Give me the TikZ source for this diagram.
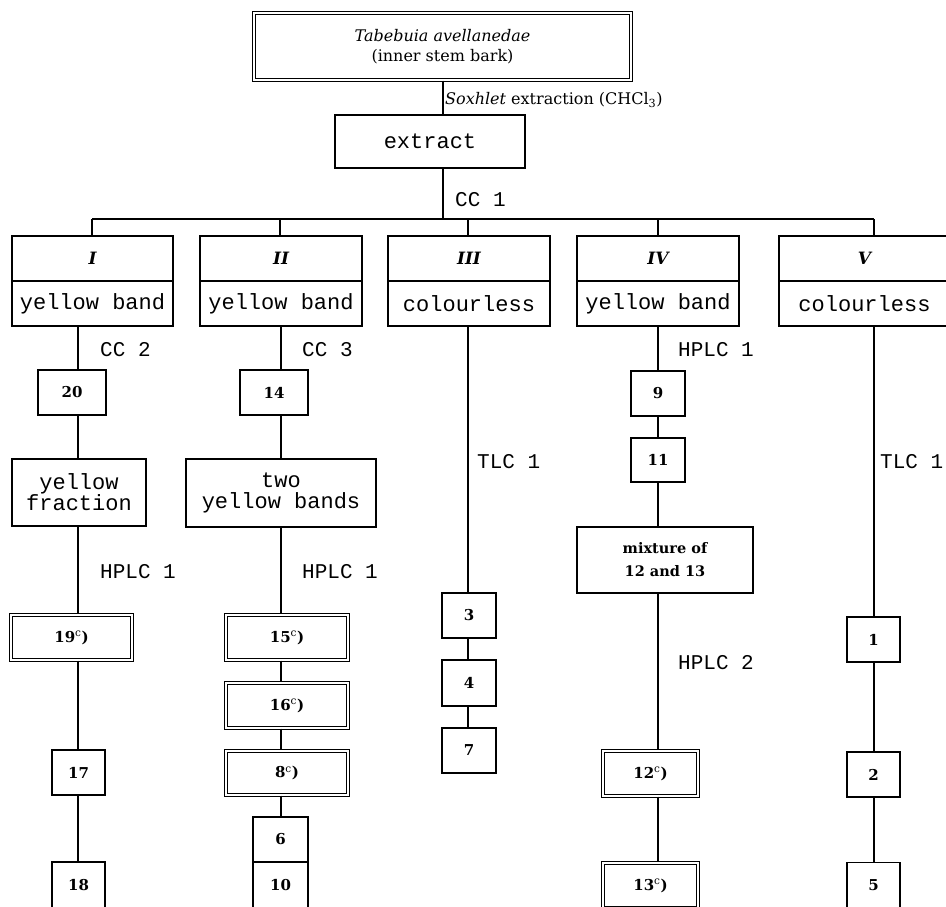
\documentclass[tikz,border=0pt]{standalone}
\usepackage{fontspec}
\setmainfont{DejaVu Serif}
\setmonofont{Liberation Mono}
\begin{document}
\begin{tikzpicture}[x=1pt,y=-1pt,
  box/.style={draw, rectangle, inner sep=0pt, line width=1.3pt, align=center},
  dbl/.style={box, double, double distance=2.2pt, line width=1.1pt},
  mono/.style={font=\fontsize{22}{21}\selectfont\ttfamily},
  num/.style={font=\fontsize{15}{20}\selectfont\bfseries},
  rom/.style={font=\fontsize{17}{20}\selectfont\bfseries\itshape},
  lab/.style={anchor=west, inner sep=0pt, font=\fontsize{21}{21}\selectfont\ttfamily},
  conn/.style={line width=1.3pt}]
\useasboundingbox (0,0) rectangle (946,906);
\clip (0,0) rectangle (946,906);
\newcommand{\cm}[1]{\textbf{#1}{\normalfont\textsuperscript{c}})}
% top
\node[dbl, minimum width=377pt, minimum height=67pt, font=\fontsize{16}{20}\selectfont] (top) at (442.5,46.5)
  {\textit{Tabebuia avellanedae}\\(inner stem bark)};
\node[box, mono, minimum width=190pt, minimum height=53pt] (ext) at (430,141.5) {extract};
\draw[conn] (top.south -| 443,0) -- (ext.north -| 443,0);
\node[anchor=west, inner sep=0pt, font=\fontsize{16}{20}\selectfont] (sox) at (445,100) {\textit{Soxhlet} extraction (CHCl\textsubscript{3})};
\coordinate (bar) at (443,219);
\node[lab] (cc1) at (455,200) {CC 1};
% headers
\foreach \n/\cx/\w/\r/\t in {1/92.5/161/I/yellow band,2/281/162/II/yellow band,3/469/162/III/colourless,4/658/162/IV/yellow band,5/864.5/171/V/colourless}{
  \node[box, rom, minimum width=\w pt, minimum height=45pt] (h\n a) at (\cx,258.5) {\r};
  \node[box, mono, minimum width=\w pt, minimum height=45pt] (h\n b) at (\cx,303.5) {\t};
}
\coordinate (v1) at (92,219);
\coordinate (v2) at (280,219);
\coordinate (v3) at (468,219);
\coordinate (v4) at (658,219);
\coordinate (v5) at (874,219);
\draw[conn] (ext.south -| bar) -- (bar);
\draw[conn] (v1) -- (v5);
\foreach \n in {1,...,5}{\draw[conn] (v\n) -- (h\n a.north -| v\n);}
% column I
\coordinate (c1) at (78,0);
\node[box, num, minimum width=68pt, minimum height=45pt] (b20) at (72,392.5) {20};
\node[box, mono, minimum width=134pt, minimum height=67pt] (yf) at (79,492.5) {yellow\\fraction};
\node[dbl, num, minimum width=121pt, minimum height=45pt] (b19) at (71.5,637.5) {\cm{19}};
\node[box, num, minimum width=53pt, minimum height=45pt] (b17) at (78.5,772.5) {17};
\node[box, num, minimum width=53pt, minimum height=46pt] (b18) at (78.5,885) {18};
\node[lab] (cc2) at (100,350) {CC 2};
\node[lab] (hp1a) at (100,572) {HPLC 1};
\draw[conn] (h1b.south -| c1) -- (b20.north -| c1);
\draw[conn] (b20.south -| c1) -- (yf.north -| c1);
\draw[conn] (yf.south -| c1) -- (b19.north -| c1);
\draw[conn] (b19.south -| c1) -- (b17.north -| c1);
\draw[conn] (b17.south -| c1) -- (b18.north -| c1);
% column II
\coordinate (c2) at (281,0);
\node[box, num, minimum width=68pt, minimum height=45pt] (b14) at (274,392.5) {14};
\node[box, mono, minimum width=190pt, minimum height=68pt] (tyb) at (281,493) {two\\yellow bands};
\node[dbl, num, minimum width=122pt, minimum height=45pt] (b15) at (287,637.5) {\cm{15}};
\node[dbl, num, minimum width=122pt, minimum height=45pt] (b16) at (287,705.5) {\cm{16}};
\node[dbl, num, minimum width=122pt, minimum height=44pt] (b8) at (287,773) {\cm{8}};
\node[box, num, minimum width=55pt, minimum height=45pt] (b6) at (280.5,839.5) {6};
\node[box, num, minimum width=55pt, minimum height=46pt] (b10) at (280.5,885) {10};
\node[lab] (cc3) at (302,350) {CC 3};
\node[lab] (hp1b) at (302,572) {HPLC 1};
\draw[conn] (h2b.south -| c2) -- (b14.north -| c2);
\draw[conn] (b14.south -| c2) -- (tyb.north -| c2);
\draw[conn] (tyb.south -| c2) -- (b15.north -| c2);
\draw[conn] (b15.south -| c2) -- (b16.north -| c2);
\draw[conn] (b16.south -| c2) -- (b8.north -| c2);
\draw[conn] (b8.south -| c2) -- (b6.north -| c2);
% column III
\coordinate (c3) at (468,0);
\node[box, num, minimum width=54pt, minimum height=45pt] (b3) at (469,615.5) {3};
\node[box, num, minimum width=54pt, minimum height=46pt] (b4) at (469,683) {4};
\node[box, num, minimum width=54pt, minimum height=45pt] (b7) at (469,750.5) {7};
\node[lab] (tlc1a) at (477,462) {TLC 1};
\draw[conn] (h3b.south -| c3) -- (b3.north -| c3);
\draw[conn] (b3.south -| c3) -- (b4.north -| c3);
\draw[conn] (b4.south -| c3) -- (b7.north -| c3);
% column IV
\coordinate (c4) at (658,0);
\node[box, num, minimum width=54pt, minimum height=45pt] (b9) at (658,393.5) {9};
\node[box, num, minimum width=54pt, minimum height=44pt] (b11) at (658,460) {11};
\node[box, num, minimum width=176pt, minimum height=66pt, font=\fontsize{14.5}{23}\selectfont\bfseries] (mix) at (665,560) {mixture of\\12 and 13};
\node[dbl, num, minimum width=95pt, minimum height=45pt] (b12) at (650.5,773.5) {\cm{12}};
\node[dbl, num, minimum width=95pt, minimum height=45pt] (b13) at (650.5,885.5) {\cm{13}};
\node[lab] (hp1c) at (678,350) {HPLC 1};
\node[lab] (hp2) at (678,663) {HPLC 2};
\draw[conn] (h4b.south -| c4) -- (b9.north -| c4);
\draw[conn] (b9.south -| c4) -- (b11.north -| c4);
\draw[conn] (b11.south -| c4) -- (mix.north -| c4);
\draw[conn] (mix.south -| c4) -- (b12.north -| c4);
\draw[conn] (b12.south -| c4) -- (b13.north -| c4);
% column V
\coordinate (c5) at (874,0);
\node[box, num, minimum width=53pt, minimum height=45pt] (b1) at (873.5,639.5) {1};
\node[box, num, minimum width=53pt, minimum height=45pt] (b2) at (873.5,774.5) {2};
\node[box, num, minimum width=53pt, minimum height=46pt] (b5) at (873.5,885.5) {5};
\node[lab] (tlc1b) at (880,462) {TLC 1};
\draw[conn] (h5b.south -| c5) -- (b1.north -| c5);
\draw[conn] (b1.south -| c5) -- (b2.north -| c5);
\draw[conn] (b2.south -| c5) -- (b5.north -| c5);
\end{tikzpicture}
\end{document}
